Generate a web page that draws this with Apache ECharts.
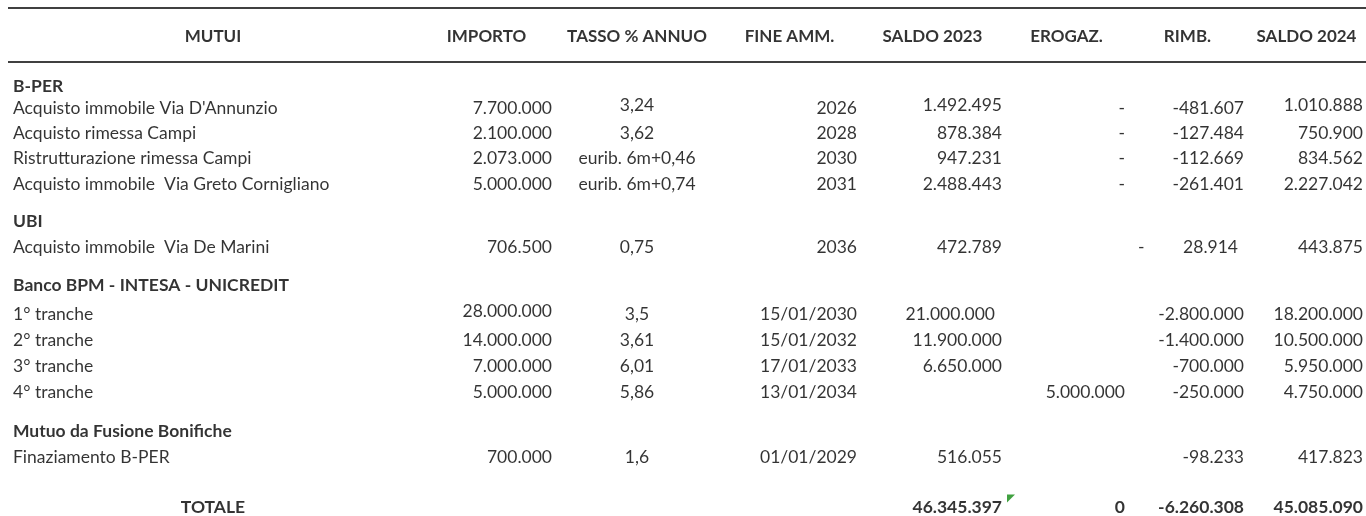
<!DOCTYPE html>
<html><head><meta charset="utf-8">
<script src="https://cdn.jsdelivr.net/npm/echarts@6/dist/echarts.min.js"></script>
<style>html,body{margin:0;padding:0;background:#fff}#c{width:1366px;height:516px}</style>
</head><body><div id="c"></div>
<script>
// ================= DATA =================
const columns = ['MUTUI', 'IMPORTO', 'TASSO % ANNUO', 'FINE AMM.', 'SALDO 2023', 'EROGAZ.', 'RIMB.', 'SALDO 2024'];
const groups = ['B-PER', 'UBI', 'Banco BPM - INTESA - UNICREDIT', 'Mutuo da Fusione Bonifiche'];
const groupSizes = [4, 1, 4, 1];
const loanNames = [
  "Acquisto immobile Via D'Annunzio",
  'Acquisto rimessa Campi',
  'Ristrutturazione rimessa Campi',
  'Acquisto immobile  Via Greto Cornigliano',
  'Acquisto immobile  Via De Marini',
  '1° tranche', '2° tranche', '3° tranche', '4° tranche',
  'Finaziamento B-PER'
];
const importo = [7700000, 2100000, 2073000, 5000000, 706500, 28000000, 14000000, 7000000, 5000000, 700000];
const tasso = ['3,24', '3,62', 'eurib. 6m+0,46', 'eurib. 6m+0,74', '0,75', '3,5', '3,61', '6,01', '5,86', '1,6'];
const fineAmm = ['2026', '2028', '2030', '2031', '2036', '15/01/2030', '15/01/2032', '17/01/2033', '13/01/2034', '01/01/2029'];
const saldo2023 = [1492495, 878384, 947231, 2488443, 472789, 21000000, 11900000, 6650000, null, 516055];
const erogazioni = [0, 0, 0, 0, null, null, null, null, 5000000, null];
const rimborsi = [-481607, -127484, -112669, -261401, -28914, -2800000, -1400000, -700000, -250000, -98233];
const saldo2024 = [1010888, 750900, 834562, 2227042, 443875, 18200000, 10500000, 5950000, 4750000, 417823];
const totalLabel = 'TOTALE';
const totalSaldo2023 = 46345397;
const totalErogazioni = 0;
const totalRimborsi = -6260308;
const totalSaldo2024 = 45085090;

// ================= LAYOUT / STYLE =================
const COL_WIDTHS = [410, 137, 164, 141, 145, 123, 119, 119];
const COL_ALIGN = ['left', 'right', 'center', 'right', 'right', 'right', 'right', 'right'];
const PAD_L = 5, PAD_R = 3;
// gap (in row units) before each row after the header row
const ROW_GAPS = [1.9, 0.85, 0.95, 0.95, 1.0, 1.45, 1.0, 1.45, 1.1, 1.0, 1.0, 1.0, 1.5, 1.0, 1.95];
const ROW_PX = 26, HEADER_PX = 37, CHART_H = 516;
const HEADER_TOP = -1.115, HEADER_BOTTOM = 0.96;
const FONT = 'Lato';
const FONT_SIZE = 17.5;
const HEADER_FONT_SIZE = 17;
// small per-cell nudges [itemIndex, columnIndex, dx, dy]
const NUDGES = [[0, 2, 0, -3], [0, 4, 0, -3], [0, 7, 0, -3], [5, 1, 0, -3], [5, 4, -7, 0], [4, 6, -6, 0]];
// accounting-style cells: minus sign drawn at the cell's left side [itemIndex, columnIndex, leftPad]
const ACCOUNTING_SPLIT = [[4, 6, 10]];

// ================= BUILD =================
const edges = [0];
COL_WIDTHS.forEach(w => edges.push(edges[edges.length - 1] + w));
const totalW = edges[edges.length - 1];

function fmt(n, zeroDash) {
  if (n === null || n === undefined) return '';
  if (n === 0) return zeroDash ? '-' : '0';
  const s = Math.abs(n).toString().replace(/\B(?=(\d{3})+(?!\d))/g, '.');
  return (n < 0 ? '-' : '') + s;
}
function anchor(col, align) {
  if (align === 'left') return edges[col] + PAD_L;
  if (align === 'right') return edges[col + 1] - PAD_R;
  return (edges[col] + edges[col + 1]) / 2;
}

const rowY = [0];
ROW_GAPS.forEach(g => rowY.push(rowY[rowY.length - 1] + g));

const cells = [];
function addCell(col, y, text, align, bold, dx, dy, size) {
  if (text === '') return;
  cells.push({
    value: [anchor(col, align), y],
    text: text,
    label: { align: align, fontWeight: bold ? 'bold' : 'normal', fontSize: size || FONT_SIZE, offset: [dx || 0, dy || 0] }
  });
}

// header
columns.forEach((c, i) => addCell(i, 0, c, 'center', true, 0, 0, HEADER_FONT_SIZE));

let r = 1, item = 0;
groups.forEach((g, gi) => {
  addCell(0, rowY[r], g, 'left', true);
  r++;
  for (let k = 0; k < groupSizes[gi]; k++) {
    const y = rowY[r];
    const vals = [loanNames[item], fmt(importo[item]), tasso[item], fineAmm[item],
      fmt(saldo2023[item]), fmt(erogazioni[item], true), fmt(rimborsi[item]), fmt(saldo2024[item])];
    vals.forEach((v, ci) => {
      let dx = 0, dy = 0;
      NUDGES.forEach(n => { if (n[0] === item && n[1] === ci) { dx = n[2]; dy = n[3]; } });
      const split = ACCOUNTING_SPLIT.find(a => a[0] === item && a[1] === ci);
      if (split && v.startsWith('-')) {
        addCell(ci, y, '-', 'left', false, split[2] - PAD_L, dy);
        addCell(ci, y, v.slice(1), COL_ALIGN[ci], false, dx, dy);
      } else {
        addCell(ci, y, v, COL_ALIGN[ci], false, dx, dy);
      }
    });
    r++; item++;
  }
});
// total row
const ty = rowY[r];
addCell(0, ty, totalLabel, 'center', true);
addCell(4, ty, fmt(totalSaldo2023), 'right', true);
addCell(5, ty, fmt(totalErogazioni), 'right', true);
addCell(6, ty, fmt(totalRimborsi), 'right', true);
addCell(7, ty, fmt(totalSaldo2024), 'right', true);

const yMin = -HEADER_PX / ROW_PX;
const yMax = yMin + CHART_H / ROW_PX;

const chart = echarts.init(document.getElementById('c'), null, { renderer: 'canvas' });
chart.setOption({
  animation: false,
  backgroundColor: '#ffffff',
  grid: { left: 8, right: 0, top: 0, bottom: 0 },
  xAxis: { type: 'value', min: 0, max: totalW, show: false },
  yAxis: { type: 'value', inverse: true, min: yMin, max: yMax, show: false },
  series: [
    {
      type: 'scatter',
      silent: true,
      symbolSize: 0,
      data: cells,
      label: {
        show: true,
        position: [0, 0],
        verticalAlign: 'middle',
        color: '#000',
        fontFamily: FONT,
        fontSize: FONT_SIZE,
        formatter: p => p.data.text
      },
      markLine: {
        silent: true,
        symbol: 'none',
        label: { show: false },
        lineStyle: { color: '#000', width: 1.6, type: 'solid' },
        data: [{ yAxis: HEADER_TOP }, { yAxis: HEADER_BOTTOM }]
      }
    },
    {
      type: 'scatter',
      silent: true,
      symbol: 'path://M0,0L10,0L0,10Z',
      symbolSize: 8,
      symbolOffset: [6, -9],
      itemStyle: { color: '#108a10' },
      data: [[edges[5], ty]]
    }
  ]
});
</script>
</body></html>
